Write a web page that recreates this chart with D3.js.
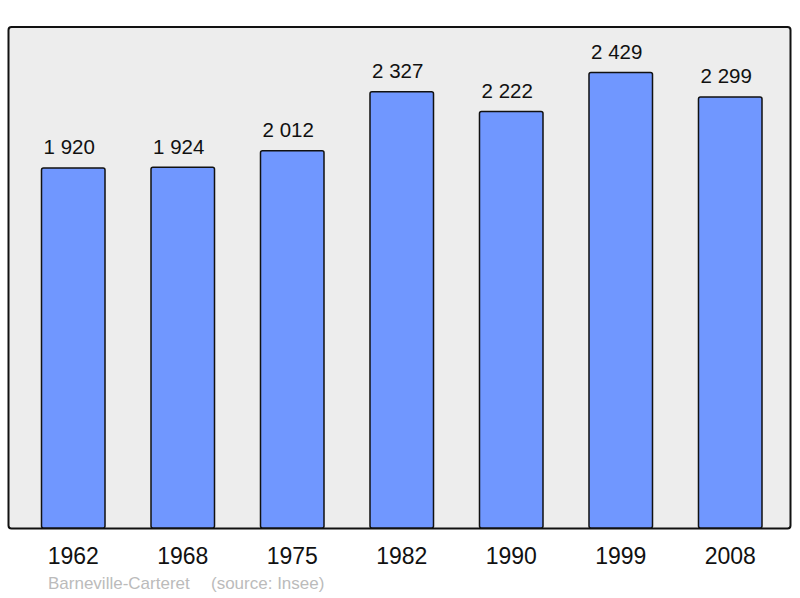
<!DOCTYPE html>
<html><head><meta charset="utf-8">
<script src="https://cdn.jsdelivr.net/npm/d3@7"></script>
<style>body{margin:0;background:#fff}svg{display:block}</style>
</head><body>
<script>
const years = ["1962","1968","1975","1982","1990","1999","2008"];
const population = [1920,1924,2012,2327,2222,2429,2299];
const footerLabel = "Barneville-Carteret";
const sourceLabel = "(source: Insee)";

const W = 800, H = 598;
const svg = d3.select("body").append("svg").attr("width", W).attr("height", H);
const font = "'Liberation Sans', Arial, sans-serif";

svg.append("rect").attr("x", 8.5).attr("y", 27).attr("width", 782).attr("height", 501.5)
  .attr("rx", 3).attr("fill", "#ededed").attr("stroke", "#111").attr("stroke-width", 2);

const x = d3.scaleBand().domain(years).range([41.5, 762]).paddingInner(0.42).paddingOuter(0);
const y = d3.scaleLinear().domain([0, 1920]).range([528, 168]);

svg.selectAll("rect.bar").data(population).join("rect").attr("class","bar")
  .attr("x", (d,i) => x(years[i])).attr("y", d => y(d))
  .attr("width", x.bandwidth()).attr("height", d => 528 - y(d))
  .attr("rx", 2).attr("fill", "#7097ff").attr("stroke", "#111").attr("stroke-width", 1.5);

svg.selectAll("text.val").data(population).join("text").attr("class","val")
  .attr("x", (d,i) => x(years[i]) + x.bandwidth()/2 - 4).attr("y", d => y(d) - 13.7)
  .attr("text-anchor","middle").attr("font-family", font).attr("font-size", 20.5).attr("fill","#111")
  .text(d => d3.format(",")(d).replace(/,/g, " "));

const xAxis = d3.axisBottom(x).tickSize(0).tickPadding(0);
const gx = svg.append("g").attr("transform", "translate(0,528)").call(xAxis);
gx.select(".domain").remove();
gx.selectAll("text").attr("font-family", font).attr("font-size", 23).attr("fill", "#111")
  .attr("dy", null).attr("y", 36);

svg.append("text").attr("x", 48).attr("y", 589).attr("font-family", font).attr("font-size", 17)
  .attr("fill", "#bbbbbb").text(footerLabel);
svg.append("text").attr("x", 211).attr("y", 589).attr("font-family", font).attr("font-size", 17)
  .attr("fill", "#bbbbbb").text(sourceLabel);
</script>
</body></html>
